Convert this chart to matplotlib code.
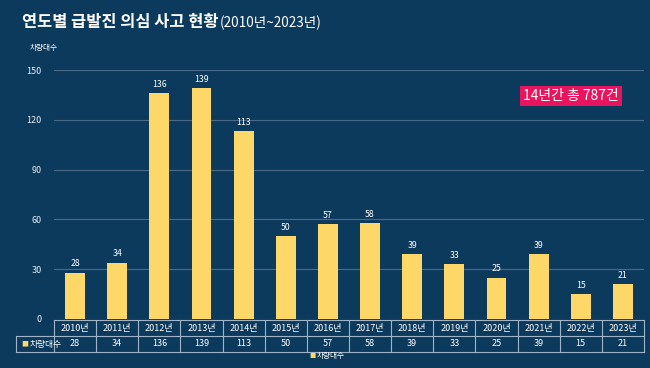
import matplotlib
matplotlib.use('Agg')
from matplotlib import pyplot as plt
import matplotlib.transforms as mtransforms
import numpy as np

plt.rcParams['font.family'] = ['Noto Sans CJK KR', 'DejaVu Sans']

# data
years = ['2010년', '2011년', '2012년', '2013년', '2014년', '2015년', '2016년',
         '2017년', '2018년', '2019년', '2020년', '2021년', '2022년', '2023년']
counts = [28, 34, 136, 139, 113, 50, 57, 58, 39, 33, 25, 39, 15, 21]
yticks = [0, 30, 60, 90, 120, 150]

bg = '#0c3a5d'
bar_color = '#fdd868'
line_color = '#9fb4c8'

fig = plt.figure(figsize=(6.5, 3.68), dpi=100, facecolor=bg)
ax = fig.add_axes([54/650, 1-319/368, 590/650, 249/368])
ax.set_facecolor(bg)

x = np.arange(len(years))
ax.bar(x, counts, width=0.47, color=bar_color, zorder=3)
for xi, v in zip(x, counts):
    ax.annotate(str(v), (xi, v), xytext=(0, 3), textcoords='offset points',
                ha='center', va='bottom', color='white', fontsize=6.3)

ax.set_xlim(-0.5, len(years) - 0.5)
ax.set_ylim(0, 150)
ax.set_yticks(yticks)
ax.set_xticks([])
ax.tick_params(axis='y', length=0, labelsize=6.5, labelcolor='#e6edf3', pad=9)
ax.grid(axis='y', color='#4a6a88', linewidth=0.8, zorder=0)
for s in ax.spines.values():
    s.set_visible(False)

# table under the chart
trans = mtransforms.blended_transform_factory(ax.transData, ax.transAxes)
y_top, y_mid, y_bot = -1/249, -17/249, -33/249
x_lab = -0.5 - 38/42.14
n = len(years)
kw = dict(transform=trans, clip_on=False, color=line_color, linewidth=0.8)
ax.plot([-0.5, n - 0.5], [y_top, y_top], **kw)
ax.plot([x_lab, n - 0.5], [y_mid, y_mid], **kw)
ax.plot([x_lab, n - 0.5], [y_bot, y_bot], **kw)
ax.plot([x_lab, x_lab], [y_mid, y_bot], **kw)
for k in range(n + 1):
    ax.plot([k - 0.5, k - 0.5], [y_top, y_bot], **kw)
for xi, yr, v in zip(x, years, counts):
    ax.text(xi, (y_top + y_mid) / 2, yr, transform=trans, ha='center', va='center',
            color='white', fontsize=6.5)
    ax.text(xi, (y_mid + y_bot) / 2, str(v), transform=trans, ha='center', va='center',
            color='white', fontsize=6.5)
ax.text(x_lab + 0.12, (y_mid + y_bot) / 2, '■', transform=trans, ha='left', va='center',
        color=bar_color, fontsize=5)
ax.text(x_lab + 0.32, (y_mid + y_bot) / 2, '차량대수', transform=trans, ha='left',
        va='center', color='white', fontsize=6.3)

# title + subtitle right after it
title = fig.text(22/650, 1-22/368, '연도별 급발진 의심 사고 현황', color='white',
                 fontsize=11.8, fontweight='bold', ha='left', va='center')
ax.annotate('(2010년~2023년)', xy=(1, 0.45), xycoords=title, xytext=(1, 0),
            textcoords='offset points', color='white', fontsize=9.8,
            ha='left', va='center', annotation_clip=False)
fig.text(30/650, 1-48/368, '차량대수', color='white', fontsize=5.5, ha='left', va='center')

# highlight box
fig.text(571/650, 1-96/368, '14년간 총 787건', color='white', fontsize=10,
         ha='center', va='center',
         bbox=dict(boxstyle='square,pad=0.25', facecolor='#e8145e', edgecolor='none'))

# legend
fig.text(309/650, 1-356/368, '■', color=bar_color, fontsize=4.5, ha='left', va='center')
fig.text(317/650, 1-356/368, '차량대수', color='white', fontsize=5.5, ha='left', va='center')

fig.savefig('out.png', dpi=100, facecolor=bg)
